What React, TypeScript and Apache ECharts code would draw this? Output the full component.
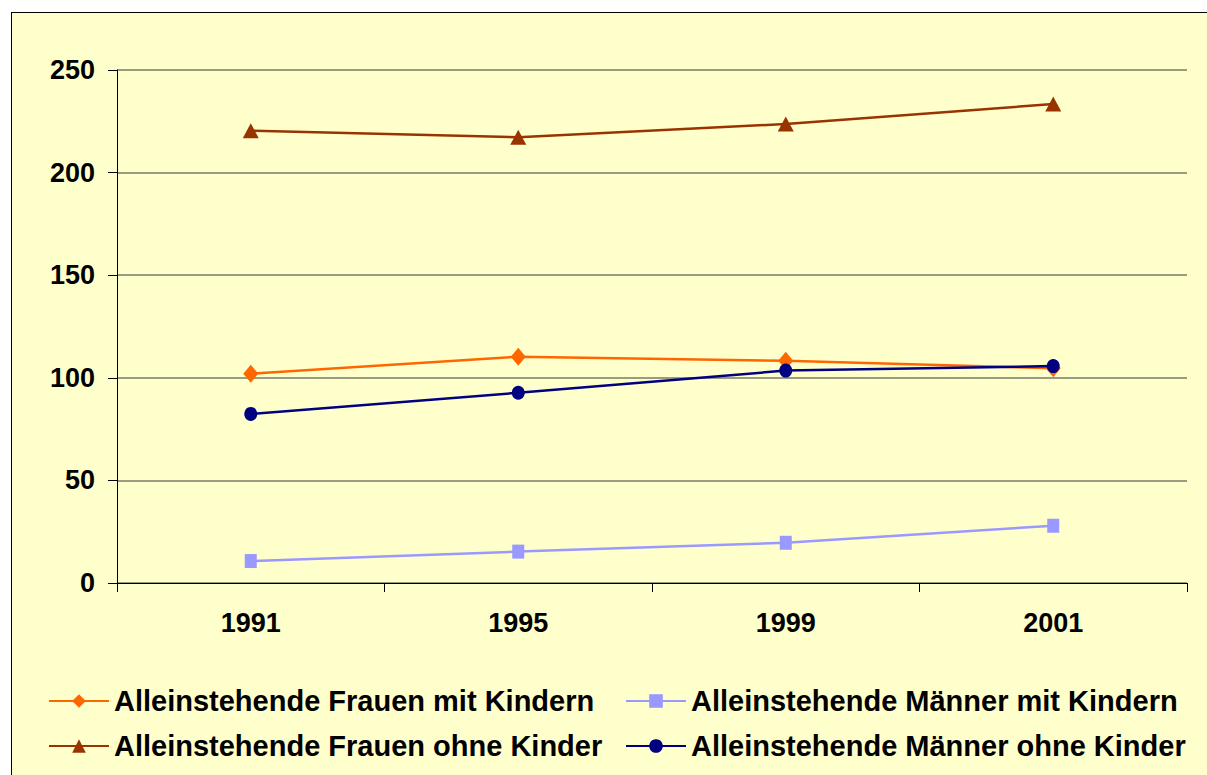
import React, { useEffect, useRef } from "react";
import * as echarts from "echarts";

const years = ["1991", "1995", "1999", "2001"];
const frauenMitKindern = [102, 110.3, 108.3, 104.6];
const maennerMitKindern = [10.7, 15.3, 19.6, 27.9];
const frauenOhneKinder = [220.4, 217.2, 223.7, 233.4];
const maennerOhneKinder = [82.4, 92.7, 103.5, 105.7];

const names = [
  "Alleinstehende Frauen mit Kindern",
  "Alleinstehende Männer mit Kindern",
  "Alleinstehende Frauen ohne Kinder",
  "Alleinstehende Männer ohne Kinder",
];

const FONT = "'Liberation Sans', Arial, sans-serif";

export default function App() {
  const ref = useRef<HTMLDivElement>(null);
  useEffect(() => {
    if (!ref.current) return;
    const chart = echarts.init(ref.current, null, { renderer: "svg" });
    const legendText = {
      fontSize: 29,
      fontWeight: "bold",
      fontFamily: FONT,
      color: "#000",
      lineHeight: 30,
    };
    const mkLegend = (name: string, left: number, top: number) => ({
      show: true,
      data: [name],
      left,
      top,
      orient: "horizontal",
      padding: 0,
      itemWidth: 60,
      itemHeight: 17,
      textStyle: legendText,
      selectedMode: false,
    });
    chart.setOption({
      animation: false,
      backgroundColor: "transparent",
      textStyle: { fontFamily: FONT },
      grid: { left: 117, right: 20, top: 70, bottom: 192, containLabel: false },
      legend: [
        mkLegend(names[0], 48, 686),
        mkLegend(names[1], 625, 686),
        mkLegend(names[2], 48, 731),
        mkLegend(names[3], 625, 731),
      ],
      xAxis: {
        type: "category",
        data: years,
        boundaryGap: true,
        axisLine: { show: true, lineStyle: { color: "#000", width: 1 } },
        axisTick: { show: true, inside: false, length: 9, lineStyle: { color: "#000" } },
        axisLabel: {
          fontSize: 27,
          fontWeight: "bold",
          fontFamily: FONT,
          color: "#000",
          margin: 26,
        },
        splitLine: { show: false },
      },
      yAxis: {
        type: "value",
        min: 0,
        max: 250,
        interval: 50,
        axisLine: { show: true, lineStyle: { color: "#000", width: 1 } },
        axisTick: { show: true, inside: false, length: 9, lineStyle: { color: "#000" } },
        axisLabel: {
          fontSize: 27,
          fontWeight: "bold",
          fontFamily: FONT,
          color: "#000",
          margin: 22,
        },
        splitLine: { show: true, lineStyle: { color: "#7a7a6a", width: 1.5 } },
      },
      series: [
        {
          name: names[0],
          type: "line",
          data: frauenMitKindern,
          symbol: "diamond",
          symbolSize: [15, 18],
          lineStyle: { color: "#FF6600", width: 2.5 },
          itemStyle: { color: "#FF6600" },
          z: 3,
        },
        {
          name: names[1],
          type: "line",
          data: maennerMitKindern,
          symbol: "rect",
          symbolSize: [12, 14],
          lineStyle: { color: "#9999FF", width: 2.5 },
          itemStyle: { color: "#9999FF" },
          z: 3,
        },
        {
          name: names[2],
          type: "line",
          data: frauenOhneKinder,
          symbol: "triangle",
          symbolSize: [16, 15],
          lineStyle: { color: "#993300", width: 2.5 },
          itemStyle: { color: "#993300" },
          z: 3,
        },
        {
          name: names[3],
          type: "line",
          data: maennerOhneKinder,
          symbol: "circle",
          symbolSize: [13, 14],
          lineStyle: { color: "#000080", width: 2.5 },
          itemStyle: { color: "#000080" },
          z: 4,
        },
      ],
    });
    return () => chart.dispose();
  }, []);

  return (
    <div
      style={{
        position: "absolute",
        left: 0,
        top: 0,
        width: 1207,
        height: 775,
        background: "#fff",
        overflow: "hidden",
      }}
    >
      <div
        style={{
          position: "absolute",
          left: 11,
          top: 12,
          width: 1300,
          height: 900,
          background: "#FFFFCC",
          borderLeft: "1.5px solid #000",
          borderTop: "1.5px solid #000",
        }}
      />
      <div
        ref={ref}
        style={{ position: "absolute", left: 0, top: 0, width: 1207, height: 775 }}
      />
    </div>
  );
}
